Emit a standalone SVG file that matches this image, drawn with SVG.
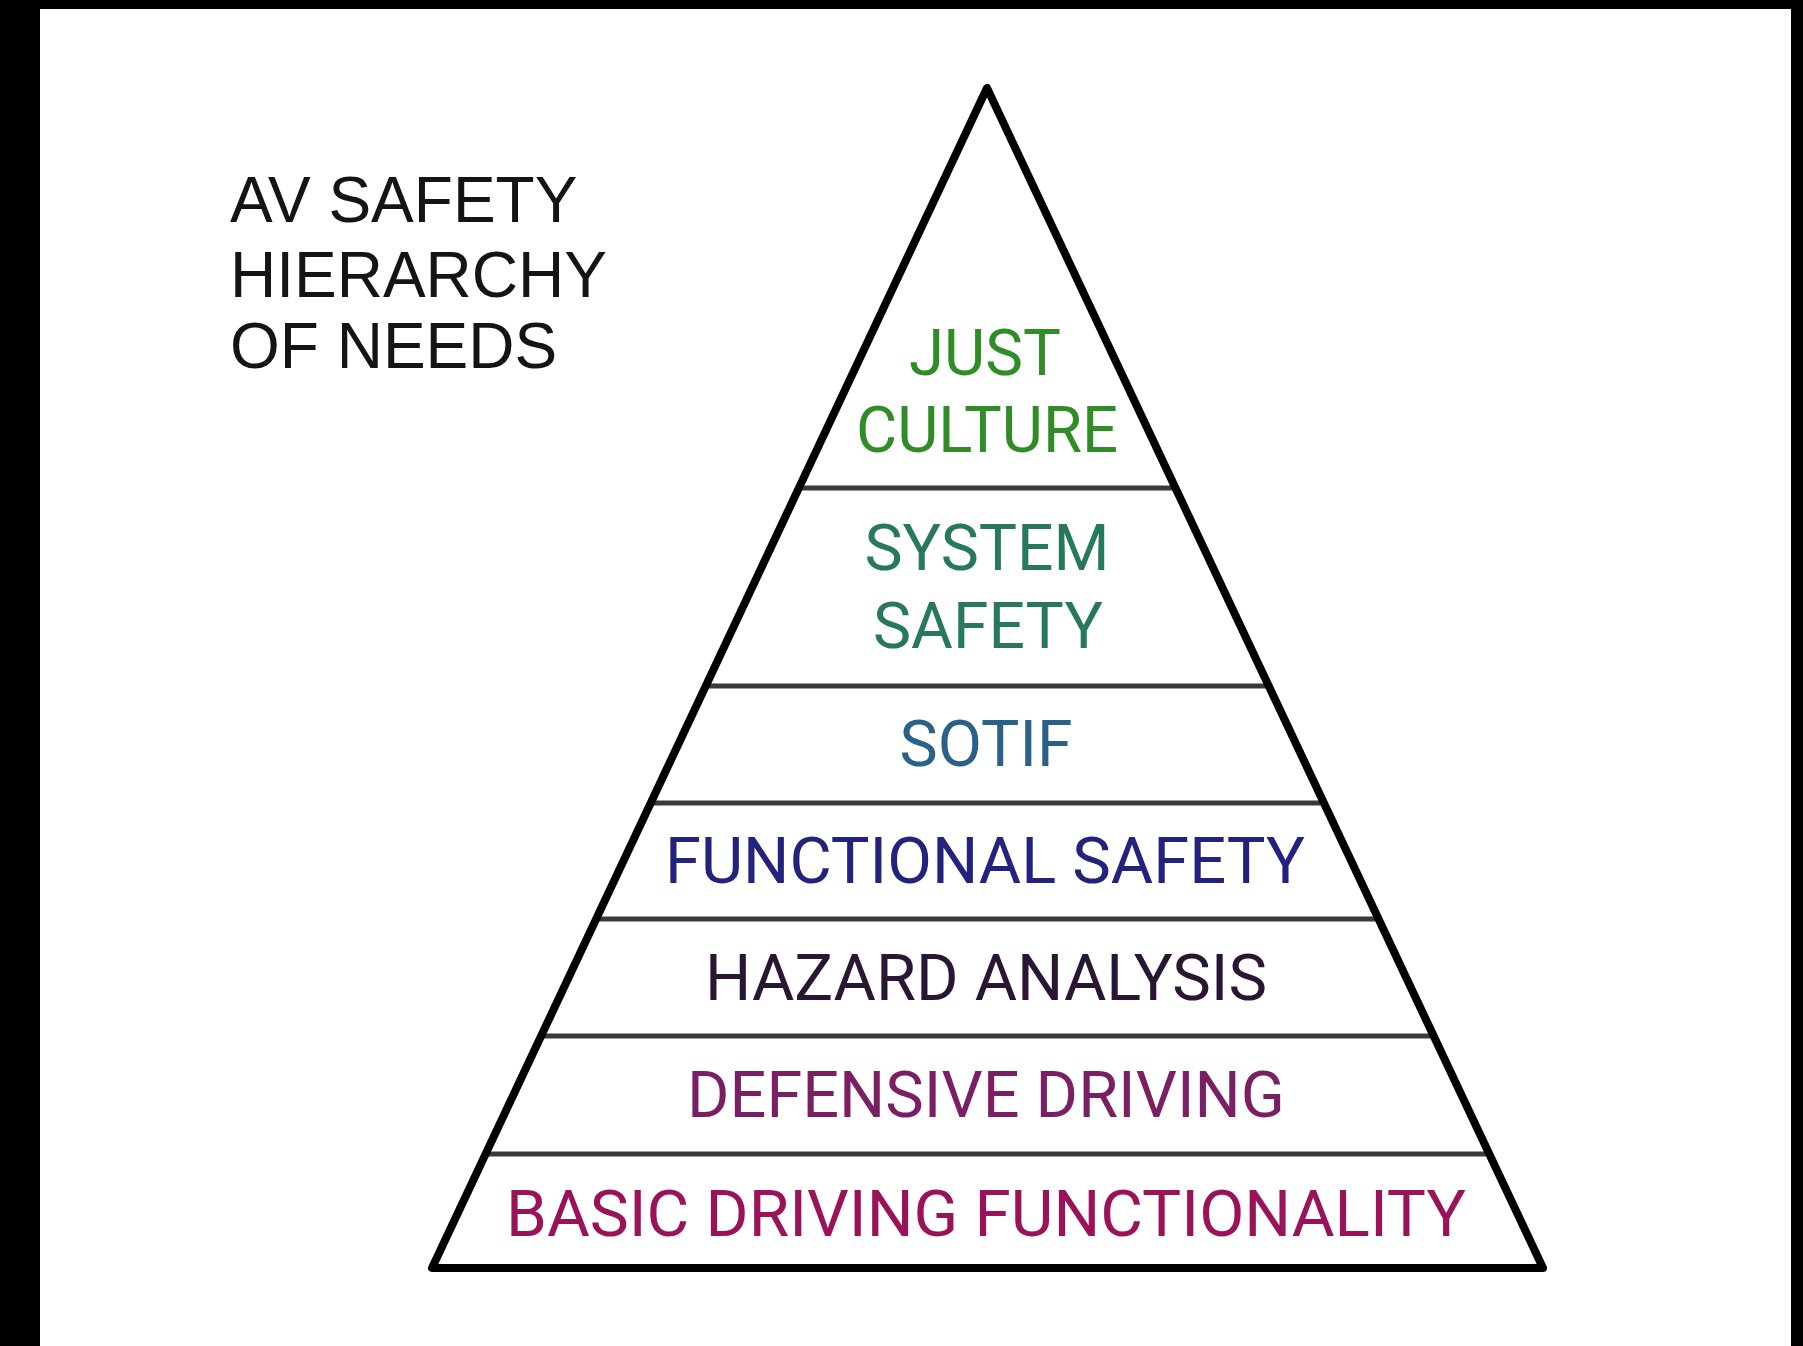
<svg xmlns="http://www.w3.org/2000/svg" width="1803" height="1346" viewBox="0 0 1803 1346">
  <style>
    .title { font-family: "Liberation Sans", Arial, sans-serif; font-size: 64px; fill: #141414; }
    .tier { font-family: Roboto, "Liberation Sans", sans-serif; font-size: 64px; text-anchor: middle; }
    .divider { stroke: #3a3a3a; stroke-width: 5; fill: none; }
    .outline { stroke: #000; stroke-width: 8; fill: none; stroke-linejoin: round; }
  </style>

  <!-- frame: black bands on the left, top and right edges -->
  <rect x="0" y="0" width="1803" height="1346" fill="#000"/>
  <rect x="40" y="9" width="1751" height="1337" fill="#fff"/>

  <!-- heading -->
  <g id="heading">
    <text class="title" x="230" y="222">AV SAFETY</text>
    <text class="title" x="230" y="297">HIERARCHY</text>
    <text class="title" x="230" y="368">OF NEEDS</text>
  </g>

  <!-- horizontal lines separating the tiers -->
  <g id="dividers">
    <line class="divider" x1="799" y1="488" x2="1175" y2="488"/>
    <line class="divider" x1="706" y1="686" x2="1268" y2="686"/>
    <line class="divider" x1="651" y1="803" x2="1323" y2="803"/>
    <line class="divider" x1="596" y1="919" x2="1378" y2="919"/>
    <line class="divider" x1="541" y1="1036" x2="1433" y2="1036"/>
    <line class="divider" x1="486" y1="1154" x2="1488" y2="1154"/>
  </g>

  <!-- pyramid outline -->
  <g id="pyramid">
    <polygon class="outline" points="987,88 432,1268 1543,1268"/>
  </g>

  <!-- tiers, top to bottom -->
  <g id="tier-just-culture">
    <text class="tier" x="985" y="375" fill="#2f8c27" textLength="152" lengthAdjust="spacingAndGlyphs">JUST</text>
    <text class="tier" x="987" y="452" fill="#2f8c27" textLength="262" lengthAdjust="spacingAndGlyphs">CULTURE</text>
  </g>
  <g id="tier-system-safety">
    <text class="tier" x="987" y="570" fill="#28795a" textLength="245" lengthAdjust="spacingAndGlyphs">SYSTEM</text>
    <text class="tier" x="988" y="648" fill="#28795a" textLength="230" lengthAdjust="spacingAndGlyphs">SAFETY</text>
  </g>
  <g id="tier-sotif">
    <text class="tier" x="986" y="766" fill="#2a6189" textLength="173" lengthAdjust="spacingAndGlyphs">SOTIF</text>
  </g>
  <g id="tier-functional-safety">
    <text class="tier" x="985" y="883" fill="#23237d" textLength="640" lengthAdjust="spacingAndGlyphs">FUNCTIONAL SAFETY</text>
  </g>
  <g id="tier-hazard-analysis">
    <text class="tier" x="986" y="1000" fill="#2a1632" textLength="562" lengthAdjust="spacingAndGlyphs">HAZARD ANALYSIS</text>
  </g>
  <g id="tier-defensive-driving">
    <text class="tier" x="986" y="1117" fill="#7a1f63" textLength="598" lengthAdjust="spacingAndGlyphs">DEFENSIVE DRIVING</text>
  </g>
  <g id="tier-basic-driving">
    <text class="tier" x="986" y="1236" fill="#9a1359" textLength="960" lengthAdjust="spacingAndGlyphs">BASIC DRIVING FUNCTIONALITY</text>
  </g>
</svg>
